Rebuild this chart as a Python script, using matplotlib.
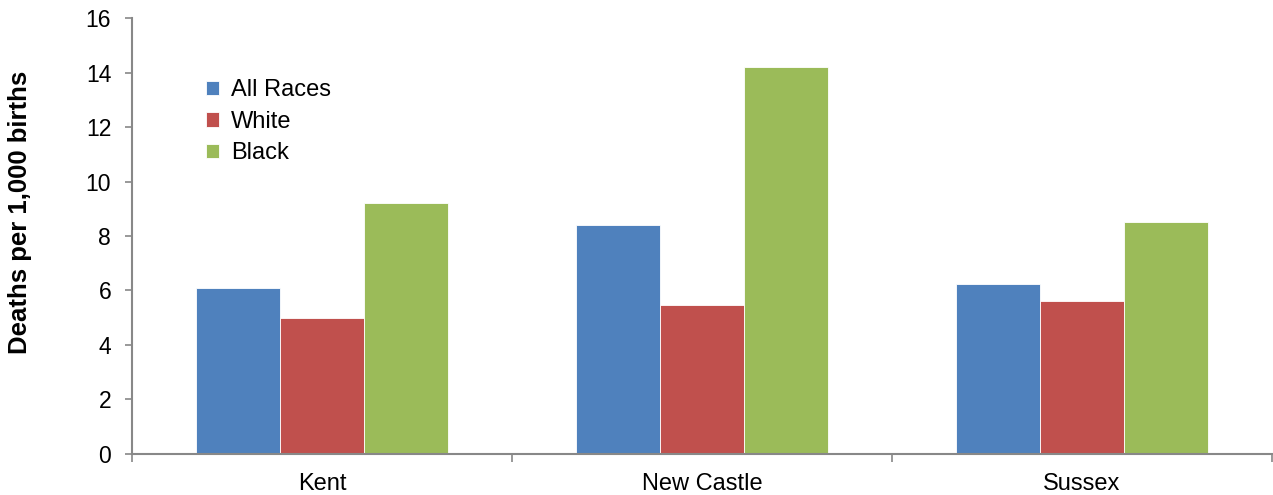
import numpy as np
import matplotlib
matplotlib.use("Agg")
import matplotlib.pyplot as plt
from matplotlib.ticker import FixedLocator, NullFormatter

counties = ["Kent", "New Castle", "Sussex"]
series_names = ["All Races", "White", "Black"]
all_races = [6.1, 8.4, 6.25]
white = [5.0, 5.45, 5.6]
black = [9.2, 14.2, 8.5]
y_ticks = [0, 2, 4, 6, 8, 10, 12, 14, 16]

colors = ["#4F81BD", "#C0504D", "#9BBB59"]

plt.rcParams["font.family"] = ["Liberation Sans", "DejaVu Sans"]

fig = plt.figure(figsize=(12.73, 4.95), dpi=100)
ax = fig.add_axes([0.1037, 0.0838, 0.8955, 0.879])

x = np.arange(len(counties))
width = 0.221
for i, (vals, name) in enumerate(zip([all_races, white, black], series_names)):
    ax.bar(x + (i - 1) * width, vals, width, color=colors[i], label=name,
           edgecolor="white", linewidth=0.6)

ax.set_xlim(-0.5, len(counties) - 0.5)
ax.set_ylim(0, 16)
ax.set_yticks(y_ticks)
ax.tick_params(axis="y", labelsize=16.5, length=5, color="#888888", width=1.2, pad=10)

# category boundary ticks, labels on minor ticks at centers
ax.xaxis.set_major_locator(FixedLocator(np.arange(-0.5, len(counties), 1.0)))
ax.xaxis.set_major_formatter(NullFormatter())
ax.xaxis.set_minor_locator(FixedLocator(x))
ax.set_xticklabels(counties, minor=True)
ax.tick_params(axis="x", which="major", length=6, color="#888888", width=1.2)
ax.tick_params(axis="x", which="minor", length=0, labelsize=17, pad=14)

for side in ["top", "right"]:
    ax.spines[side].set_visible(False)
for side in ["left", "bottom"]:
    ax.spines[side].set_color("#888888")
    ax.spines[side].set_linewidth(1.5)

ax.set_ylabel("Deaths per 1,000 births", fontsize=18.5, fontweight="bold")
ax.yaxis.set_label_coords(-0.088, 0.554)

ax.legend(loc="upper left", bbox_to_anchor=(0.065, 0.86), frameon=False, fontsize=17,
          borderpad=0, borderaxespad=0,
          handlelength=0.55, handleheight=0.55, handletextpad=0.5, labelspacing=0.4)

fig.savefig("out.png", dpi=100)
